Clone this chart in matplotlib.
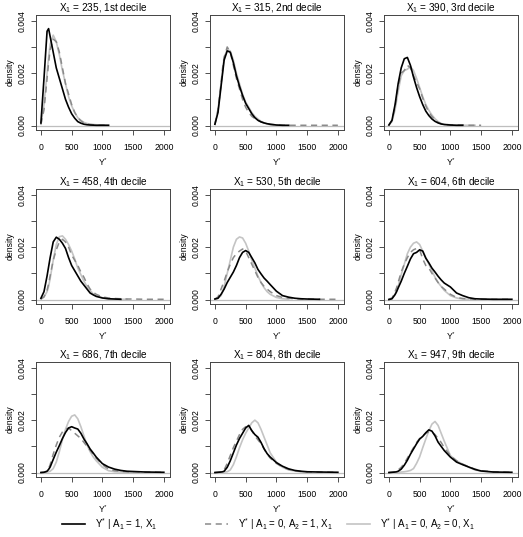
# Density of Y* by treatment history, one panel per decile of X1
import numpy as np
import matplotlib
matplotlib.use("Agg")
import matplotlib.pyplot as plt
from matplotlib.lines import Line2D

plt.rcParams['font.family'] = ['Liberation Sans', 'DejaVu Sans']
plt.rcParams['mathtext.fontset'] = 'custom'
plt.rcParams['mathtext.rm'] = 'Liberation Sans'
plt.rcParams['mathtext.it'] = 'Liberation Sans:italic'

# evaluation grid for the density curves (Y*)
grid = [0, 50, 100, 125, 150, 200, 250, 300, 350, 400, 450, 500, 550, 600, 650,
        700, 750, 800, 850, 900, 1000, 1100, 1200, 1300, 1400, 1500, 1700, 2000]

x1_values = [235, 315, 390, 458, 530, 604, 686, 804, 947]
decile_names = ["1st", "2nd", "3rd", "4th", "5th", "6th", "7th", "8th", "9th"]

N = None
# densities in units of 1e-3; one list per decile for each group
# group 1: A1 = 1
dens_a1 = [
    [0.1, 1.8, 3.6, 3.7, 3.4, 2.8, 2.2, 1.8, 1.4, 1.0, 0.7, 0.45, 0.28, 0.15, 0.09, 0.05, 0.03, 0.02, 0.015, 0.01, 0.01, 0.01, N, N, N, N, N, N],
    [0.05, 0.5, 1.5, 2.0, 2.5, 2.85, 2.8, 2.4, 1.9, 1.5, 1.15, 0.85, 0.65, 0.45, 0.3, 0.2, 0.14, 0.1, 0.07, 0.05, 0.02, 0.01, 0.01, N, N, N, N, N],
    [0.02, 0.2, 0.8, 1.2, 1.6, 2.2, 2.55, 2.6, 2.3, 1.85, 1.45, 1.1, 0.8, 0.55, 0.38, 0.25, 0.16, 0.1, 0.06, 0.04, 0.02, 0.01, 0.01, N, N, N, N, N],
    [0.05, 0.3, 0.9, 1.25, 1.6, 2.2, 2.38, 2.3, 2.15, 1.95, 1.6, 1.3, 1.1, 0.9, 0.7, 0.55, 0.4, 0.25, 0.18, 0.12, 0.06, 0.03, 0.02, 0.01, N, N, N, N],
    [0.02, 0.05, 0.2, 0.3, 0.4, 0.65, 0.85, 1.05, 1.3, 1.6, 1.8, 1.87, 1.8, 1.6, 1.4, 1.15, 0.98, 0.82, 0.7, 0.57, 0.32, 0.15, 0.09, 0.05, 0.03, 0.02, 0.01, N],
    [0.0, 0.03, 0.19, 0.3, 0.44, 0.7, 1.0, 1.27, 1.55, 1.75, 1.8, 1.9, 1.85, 1.58, 1.4, 1.2, 1.05, 0.89, 0.75, 0.63, 0.48, 0.25, 0.15, 0.07, 0.03, 0.02, 0.01, 0.01],
    [0.0, 0.01, 0.05, 0.12, 0.21, 0.5, 0.78, 1.03, 1.3, 1.53, 1.7, 1.75, 1.7, 1.66, 1.5, 1.28, 1.1, 0.9, 0.75, 0.59, 0.34, 0.21, 0.13, 0.08, 0.05, 0.04, 0.02, 0.01],
    [0.0, 0.01, 0.02, 0.03, 0.05, 0.2, 0.45, 0.75, 1.05, 1.3, 1.5, 1.7, 1.8, 1.6, 1.45, 1.35, 1.15, 0.91, 0.72, 0.59, 0.38, 0.24, 0.14, 0.08, 0.05, 0.03, 0.02, 0.01],
    [0.0, 0.01, 0.02, 0.03, 0.05, 0.13, 0.28, 0.47, 0.7, 0.9, 1.1, 1.28, 1.38, 1.52, 1.63, 1.58, 1.4, 1.16, 1.0, 0.84, 0.59, 0.4, 0.3, 0.21, 0.12, 0.06, 0.02, 0.01],
]
# group 2: A1 = 0, A2 = 1
dens_a2 = [
    [0.05, 0.6, 1.8, 2.4, 2.9, 3.3, 3.2, 2.8, 2.2, 1.6, 1.2, 0.8, 0.5, 0.3, 0.18, 0.1, 0.06, 0.04, 0.03, 0.02, 0.02, 0.01, N, N, N, N, N, N],
    [0.05, 0.6, 1.6, 2.2, 2.6, 3.0, 2.8, 2.3, 1.8, 1.4, 1.0, 0.7, 0.5, 0.35, 0.27, 0.2, 0.14, 0.1, 0.07, 0.04, 0.03, 0.01, 0.01, 0.01, 0.01, 0.01, 0.01, 0.01],
    [0.02, 0.2, 0.7, 1.1, 1.5, 2.0, 2.1, 2.3, 2.2, 1.9, 1.65, 1.4, 1.05, 0.75, 0.5, 0.35, 0.22, 0.12, 0.07, 0.04, 0.03, 0.02, 0.02, 0.01, 0.01, 0.01, N, N],
    [0.02, 0.1, 0.35, 0.6, 0.9, 1.5, 1.9, 2.2, 2.3, 2.2, 2.0, 1.7, 1.5, 1.3, 1.05, 0.85, 0.6, 0.4, 0.28, 0.2, 0.1, 0.06, 0.04, 0.03, 0.02, 0.02, 0.01, 0.01],
    [0.02, 0.1, 0.4, 0.55, 0.7, 1.05, 1.35, 1.6, 1.75, 1.85, 1.93, 1.85, 1.6, 1.35, 1.1, 0.85, 0.65, 0.5, 0.4, 0.3, 0.15, 0.08, 0.05, 0.03, 0.02, 0.02, 0.01, 0.01],
    [0.02, 0.05, 0.3, 0.45, 0.65, 1.05, 1.35, 1.6, 1.8, 1.9, 1.95, 1.9, 1.55, 1.3, 1.2, 1.0, 0.82, 0.65, 0.5, 0.4, 0.2, 0.08, 0.04, 0.02, 0.01, 0.01, 0.01, 0.01],
    [0.0, 0.01, 0.05, 0.15, 0.3, 0.7, 1.05, 1.35, 1.55, 1.65, 1.7, 1.6, 1.5, 1.4, 1.3, 1.15, 1.0, 0.85, 0.7, 0.55, 0.3, 0.13, 0.07, 0.05, 0.03, 0.03, 0.02, 0.01],
    [0.0, 0.01, 0.02, 0.05, 0.1, 0.35, 0.65, 0.95, 1.2, 1.45, 1.65, 1.75, 1.75, 1.6, 1.4, 1.25, 1.1, 0.9, 0.7, 0.55, 0.35, 0.2, 0.12, 0.07, 0.04, 0.03, 0.02, 0.01],
    [0.0, 0.01, 0.02, 0.05, 0.1, 0.2, 0.35, 0.55, 0.75, 0.95, 1.15, 1.3, 1.4, 1.5, 1.55, 1.55, 1.45, 1.3, 1.15, 0.95, 0.65, 0.45, 0.32, 0.22, 0.13, 0.07, 0.03, 0.01],
]
# group 3: A1 = 0, A2 = 0
dens_a0 = [
    [0.05, 0.8, 2.0, 2.6, 3.1, 3.45, 3.2, 2.7, 2.1, 1.6, 1.1, 0.75, 0.5, 0.3, 0.2, 0.12, 0.08, 0.05, 0.04, 0.03, 0.02, 0.01, N, N, N, N, N, N],
    [0.05, 0.6, 1.6, 2.1, 2.6, 2.9, 2.85, 2.5, 2.0, 1.6, 1.2, 0.9, 0.7, 0.5, 0.35, 0.25, 0.16, 0.1, 0.06, 0.03, 0.02, 0.01, N, N, N, N, N, N],
    [0.02, 0.15, 0.6, 0.95, 1.3, 1.9, 2.1, 2.15, 2.25, 2.1, 1.8, 1.45, 1.1, 0.8, 0.58, 0.4, 0.26, 0.15, 0.08, 0.04, 0.02, 0.01, 0.01, 0.01, 0.01, N, N, N],
    [0.02, 0.1, 0.3, 0.5, 0.8, 1.5, 2.1, 2.4, 2.43, 2.3, 2.1, 1.85, 1.55, 1.2, 0.95, 0.7, 0.5, 0.35, 0.22, 0.15, 0.07, 0.03, 0.02, 0.01, 0.01, N, N, N],
    [0.02, 0.05, 0.15, 0.3, 0.5, 1.0, 1.5, 2.0, 2.3, 2.39, 2.35, 2.15, 1.85, 1.5, 1.2, 0.9, 0.65, 0.45, 0.3, 0.2, 0.08, 0.03, 0.01, N, N, N, N, N],
    [0.02, 0.05, 0.2, 0.35, 0.5, 0.95, 1.35, 1.75, 2.0, 2.15, 2.2, 2.1, 1.85, 1.6, 1.35, 1.1, 0.85, 0.65, 0.5, 0.35, 0.15, 0.06, 0.02, 0.01, N, N, N, N],
    [0.0, 0.0, 0.02, 0.03, 0.05, 0.15, 0.4, 0.8, 1.25, 1.65, 1.95, 2.15, 2.2, 2.05, 1.75, 1.4, 1.05, 0.8, 0.6, 0.45, 0.2, 0.07, 0.03, 0.02, 0.01, 0.01, N, N],
    [0.0, 0.0, 0.01, 0.01, 0.02, 0.03, 0.1, 0.3, 0.6, 0.95, 1.25, 1.5, 1.7, 1.9, 2.0, 1.9, 1.65, 1.35, 1.05, 0.75, 0.4, 0.2, 0.1, 0.06, 0.03, 0.01, N, N],
    [0.0, 0.0, 0.0, 0.01, 0.01, 0.02, 0.03, 0.05, 0.08, 0.15, 0.35, 0.6, 0.95, 1.28, 1.6, 1.85, 1.95, 1.8, 1.5, 1.2, 0.65, 0.45, 0.32, 0.2, 0.1, 0.05, 0.02, N],
]

labels = [r"Y$^{*}$ | A$_1$ = 1, X$_1$",
          r"Y$^{*}$ | A$_1$ = 0, A$_2$ = 1, X$_1$",
          r"Y$^{*}$ | A$_1$ = 0, A$_2$ = 0, X$_1$"]

BLACK = "black"
DASH_GRAY = "#8a8a8a"
LIGHT_GRAY = "#c4c4c4"
ZERO_GRAY = "#bebebe"


def to_array(vals):
    return np.array([np.nan if v is None else v for v in vals]) * 1e-3


W, H = 523, 537
fig = plt.figure(figsize=(W / 100, H / 100), dpi=100)

col_left = [36, 210, 384]
row_top = [15, 189, 362]
box_w, box_h = 134, 115

x = np.array(grid)
for i in range(9):
    r, c = divmod(i, 3)
    ax = fig.add_axes([col_left[c] / W, 1 - (row_top[r] + box_h) / H, box_w / W, box_h / H])
    ax.axhline(0, color=ZERO_GRAY, lw=0.9, zorder=1)
    ax.plot(x, to_array(dens_a0[i]), color=LIGHT_GRAY, lw=1.2, zorder=2)
    ax.plot(x, to_array(dens_a2[i]), color=DASH_GRAY, lw=1.1, dashes=(4, 3), zorder=3)
    ax.plot(x, to_array(dens_a1[i]), color=BLACK, lw=1.2, zorder=4)

    ax.set_xlim(-80, 2100)
    ax.set_ylim(-0.00017, 0.00422)
    ax.set_xticks([0, 500, 1000, 1500, 2000])
    ax.set_yticks([0, 0.001, 0.002, 0.003, 0.004])
    ax.set_yticklabels(["0.000", "", "0.002", "", "0.004"], rotation=90, va="center")
    ax.tick_params(labelsize=6.2, length=3.6, width=0.6, color="#333333")
    ax.tick_params(axis="x", pad=6)
    ax.tick_params(axis="y", pad=3.3)
    for s in ax.spines.values():
        s.set_linewidth(0.7)
        s.set_color("#444444")
    ax.set_title(r"X$_1$ = %d, %s decile" % (x1_values[i], decile_names[i]), fontsize=7.2, pad=3)
    ax.set_xlabel(r"Y$^{*}$", fontsize=6.2, labelpad=2.5)
    ax.set_ylabel("density", fontsize=6.2, labelpad=2)

# legend: three equal-width columns, one legend per entry
handles = [Line2D([], [], color=BLACK, lw=1.2),
           Line2D([], [], color=DASH_GRAY, lw=1.1, dashes=(4, 3)),
           Line2D([], [], color=LIGHT_GRAY, lw=1.2)]
legend_left = [62, 205, 347]
for h, lab, lx in zip(handles, labels, legend_left):
    fig.legend([h], [lab], loc="center left", bbox_to_anchor=(lx / W, 1 - 524 / H),
               frameon=False, fontsize=7.0, handlelength=2.4, handletextpad=1.0,
               borderpad=0, borderaxespad=0)

fig.savefig("out.png", dpi=100)
